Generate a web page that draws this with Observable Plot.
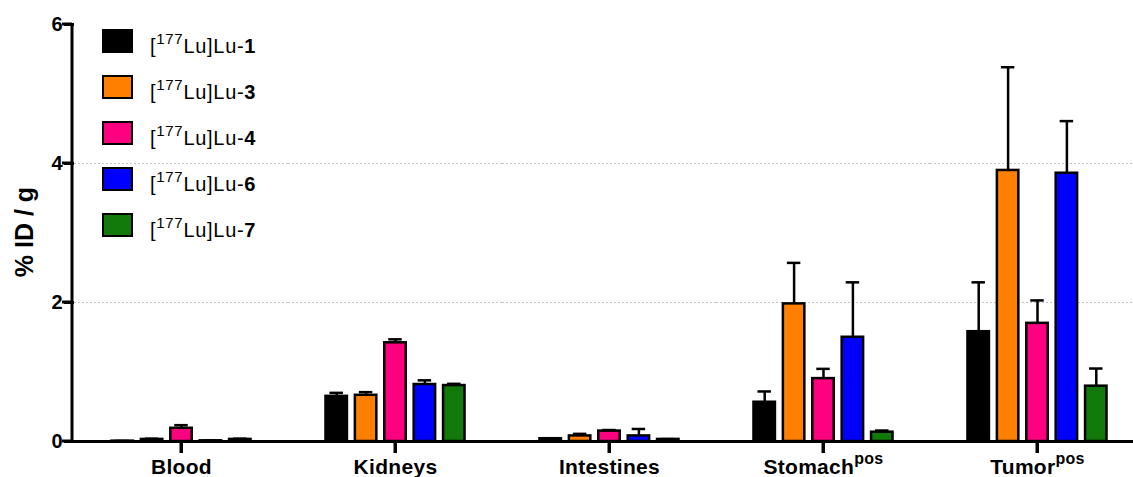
<!DOCTYPE html>
<html><head><meta charset="utf-8">
<script src="https://cdn.jsdelivr.net/npm/d3@7"></script>
<script src="https://cdn.jsdelivr.net/npm/@observablehq/plot@0.6"></script>
<style>
html,body{margin:0;padding:0;background:#fff;overflow:hidden;}
#chart{position:relative;width:1133px;height:477px;}
#chart svg g[aria-label*="axis"] path, #chart svg g[aria-label*="axis"] line {stroke:black !important; stroke-width:3px !important; stroke-opacity:1 !important;}
</style></head><body><div id="chart"></div>
<script>
// ---- data ----
const organs = ["Blood", "Kidneys", "Intestines", "Stomach", "Tumor"];
const organSup = ["", "", "", "pos", "pos"];
const compounds = ["1", "3", "4", "6", "7"];
const colors = ["#000000", "#ff8000", "#ff0080", "#0000ff", "#117a0b"];
// mean %ID/g per organ (Blood, Kidneys, Intestines, Stomach, Tumor)
const lu1 = [0.005, 0.65, 0.04, 0.565, 1.58];
const lu3 = [0.03, 0.665, 0.08, 1.98, 3.90];
const lu4 = [0.19, 1.42, 0.15, 0.905, 1.70];
const lu6 = [0.01, 0.82, 0.08, 1.50, 3.86];
const lu7 = [0.03, 0.805, 0.03, 0.134, 0.796];
// SD (upper error bar)
const lu1Sd = [0.003, 0.05, 0.005, 0.155, 0.71];
const lu3Sd = [0.01, 0.045, 0.03, 0.59, 1.485];
const lu4Sd = [0.045, 0.05, 0.015, 0.14, 0.33];
const lu6Sd = [0.003, 0.06, 0.10, 0.79, 0.75];
const lu7Sd = [0.01, 0.025, 0.005, 0.024, 0.254];
const yDomain = [0, 6];
const yTickValues = [0, 2, 4, 6];
const gridValues = [2, 4];

const means = [lu1, lu3, lu4, lu6, lu7];
const sds = [lu1Sd, lu3Sd, lu4Sd, lu6Sd, lu7Sd];
const rows = [];
organs.forEach((o, i) => compounds.forEach((c, j) => rows.push({organ: o, compound: c, mean: means[j][i], sd: sds[j][i]})));

const FONT = "'Liberation Sans', Arial, sans-serif";
const plot = Plot.plot({
  width: 1133, height: 477,
  marginTop: 24, marginBottom: 36, marginLeft: 72, marginRight: 0,
  style: {fontFamily: FONT, fontSize: "20px", background: "white", color: "black"},
  fx: {domain: organs, range: [72, 1146.5], padding: 0, axis: "bottom", label: null, tickSize: 12, tickPadding: 6},
  x: {domain: compounds, paddingInner: 0.27, paddingOuter: 1.275, axis: null, round: false},
  y: {domain: yDomain, ticks: 3, tickSize: 10, tickPadding: 2, label: null},
  color: {domain: compounds, range: colors},
  marks: [
    Plot.ruleY(gridValues, {stroke: "#c4c4c4", strokeWidth: 1, strokeDasharray: "2,2"}),
    Plot.barY(rows, {fx: "organ", x: "compound", y: "mean", fill: "compound", stroke: "black", strokeWidth: 2.5}),
    Plot.ruleX(rows, {fx: "organ", x: "compound", y1: "mean", y2: d => d.mean + d.sd, stroke: "black", strokeWidth: 2.5}),
    Plot.tickY(rows, {fx: "organ", x: "compound", y: d => d.mean + d.sd, stroke: "black", strokeWidth: 2.5, insetLeft: 4, insetRight: 4}),
    Plot.ruleY([0], {stroke: "black", strokeWidth: 3})
  ]
});
document.getElementById("chart").appendChild(plot);

const svg = d3.select(plot);
const ys = plot.scale("y");
const fxs = plot.scale("fx");
// axes text styling
const yLabelStrings = yTickValues.map(String);
svg.selectAll("text").filter(function() { return yLabelStrings.includes(this.textContent.trim()); })
  .style("font-size", "20px").style("font-weight", "bold");
svg.selectAll('[aria-label^="fx-axis"] text').attr("font-size", "21px").attr("font-weight", "bold").attr("letter-spacing", "0.3px");
// superscripts on organ labels
svg.selectAll('[aria-label^="fx-axis"] text').each(function() {
  const t = d3.select(this);
  const i = organs.indexOf(t.text());
  if (i >= 0 && organSup[i]) t.append("tspan").attr("font-size", "16px").attr("dy", "-10").text(organSup[i]);
});
// axis lines and ticks (from Plot scales)
const ax = svg.append("g").attr("stroke", "black").attr("stroke-width", 3);
ax.append("line").attr("x1", 72).attr("x2", 72).attr("y1", ys.apply(yDomain[0]) + 1.5).attr("y2", ys.apply(yDomain[1]));
yTickValues.forEach(v => ax.append("line").attr("x1", 62).attr("x2", 72).attr("y1", ys.apply(v)).attr("y2", ys.apply(v)));
organs.forEach(o => {
  const cx = fxs.apply(o) + fxs.bandwidth / 2;
  ax.append("line").attr("x1", cx).attr("x2", cx).attr("y1", ys.apply(0)).attr("y2", ys.apply(0) + 12);
});
// y label
svg.append("text")
  .attr("transform", "translate(33,232) rotate(-90)")
  .attr("text-anchor", "middle")
  .attr("font-family", FONT)
  .attr("font-size", "25px").attr("font-weight", "bold")
  .text("% ID / g");
// legend
const color = plot.scale("color");
const lg = svg.append("g").attr("font-family", FONT).attr("text-anchor", "start");
compounds.forEach((c, i) => {
  const y0 = 30 + 46 * i;
  lg.append("rect").attr("x", 103).attr("y", y0).attr("width", 29).attr("height", 22)
    .attr("fill", color.apply(c)).attr("stroke", "black").attr("stroke-width", 2);
  const t = lg.append("text").attr("x", 150).attr("y", y0 + 23).attr("font-size", "20px")
    .attr("text-anchor", "start").attr("fill", "black").attr("letter-spacing", "0.7px");
  t.append("tspan").text("[");
  t.append("tspan").attr("font-size", "15px").attr("dy", "-9").text("177");
  t.append("tspan").attr("dy", "9").text("Lu]Lu-");
  t.append("tspan").attr("font-weight", "bold").text(c);
});
</script></body></html>
